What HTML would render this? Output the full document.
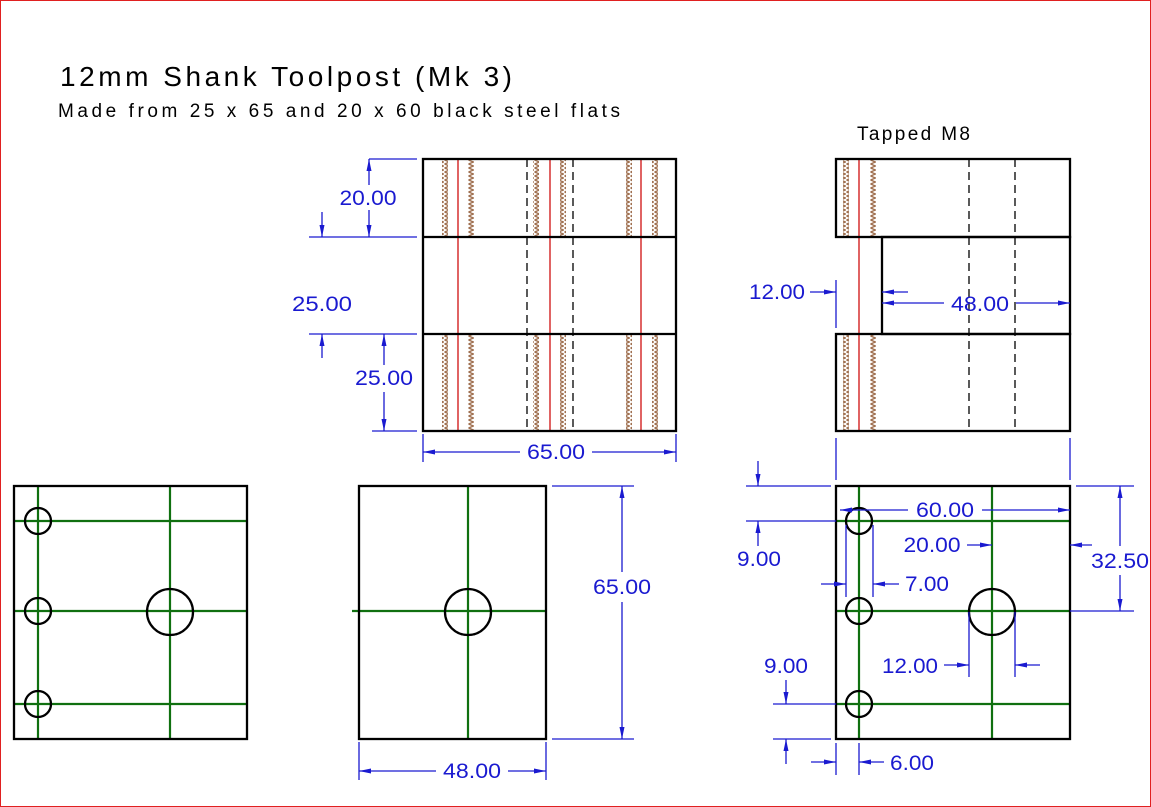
<!DOCTYPE html>
<html><head><meta charset="utf-8"><style>html,body{margin:0;padding:0;background:#fff}svg{display:block}</style></head><body>
<svg width="1151" height="807" viewBox="0 0 1151 807" xmlns="http://www.w3.org/2000/svg" font-family="Liberation Sans, sans-serif">
<defs>
<marker id="a" viewBox="0 0 12 6" refX="12" refY="3" markerWidth="12" markerHeight="6" markerUnits="userSpaceOnUse" orient="auto"><path d="M0,0.5 L12,3 L0,5.5z" fill="#1a1ad0"/></marker>
<pattern id="z" width="6" height="4" patternUnits="userSpaceOnUse"><polyline points="0.5,0 5.5,2 0.5,4" fill="none" stroke="#a07050" stroke-width="1.4"/></pattern>
</defs>
<rect x="0.5" y="0.5" width="1150" height="806" fill="#fff" stroke="#e02020"/>
<text x="60" y="86" font-size="28" textLength="452" lengthAdjust="spacing" fill="#000">12mm Shank Toolpost (Mk 3)</text>
<text x="58" y="117" font-size="19" textLength="562" lengthAdjust="spacing" fill="#000">Made from 25 x 65 and 20 x 60 black steel flats</text>
<text x="857" y="140" font-size="19" textLength="113" lengthAdjust="spacing" fill="#000">Tapped M8</text>

<g fill="url(#z)">
<rect x="442" y="160" width="6" height="77"/><rect x="468" y="160" width="6" height="77"/>
<rect x="533" y="160" width="6" height="77"/><rect x="560" y="160" width="6" height="77"/>
<rect x="626" y="160" width="6" height="77"/><rect x="652" y="160" width="6" height="77"/>
<rect x="442" y="335" width="6" height="96"/><rect x="468" y="335" width="6" height="96"/>
<rect x="533" y="335" width="6" height="96"/><rect x="560" y="335" width="6" height="96"/>
<rect x="626" y="335" width="6" height="96"/><rect x="652" y="335" width="6" height="96"/>
<rect x="843" y="160" width="6" height="77"/><rect x="870" y="160" width="6" height="77"/>
<rect x="843" y="335" width="6" height="96"/><rect x="870" y="335" width="6" height="96"/>
</g>
<g stroke="#d01010" stroke-width="1.3">
<line x1="458" y1="159" x2="458" y2="431"/><line x1="550" y1="159" x2="550" y2="431"/><line x1="641" y1="159" x2="641" y2="431"/>
<line x1="859" y1="159" x2="859" y2="431"/>
</g>
<g stroke="#000" stroke-width="1.3" stroke-dasharray="8,5">
<line x1="527" y1="159" x2="527" y2="431"/><line x1="573" y1="159" x2="573" y2="431"/>
<line x1="969" y1="159" x2="969" y2="431"/><line x1="1015" y1="159" x2="1015" y2="431"/>
</g>
<g stroke="#000" stroke-width="2.3" fill="none">
<rect x="423" y="159" width="253" height="272"/>
<line x1="423" y1="237" x2="676" y2="237"/><line x1="423" y1="334" x2="676" y2="334"/>
<rect x="836" y="159" width="234" height="78"/>
<rect x="882" y="237" width="188" height="97"/>
<rect x="836" y="334" width="234" height="97"/>
</g>

<g stroke="#107010" stroke-width="2.2">
<line x1="38" y1="486" x2="38" y2="739"/><line x1="170" y1="486" x2="170" y2="739"/>
<line x1="14" y1="521" x2="247" y2="521"/><line x1="14" y1="611" x2="247" y2="611"/><line x1="14" y1="704" x2="247" y2="704"/>
<line x1="468" y1="486" x2="468" y2="739"/><line x1="352" y1="611" x2="546" y2="611"/>
<line x1="859" y1="486" x2="859" y2="739"/><line x1="992" y1="486" x2="992" y2="739"/>
<line x1="836" y1="521" x2="1070" y2="521"/><line x1="836" y1="611" x2="1070" y2="611"/><line x1="836" y1="704" x2="1070" y2="704"/>
</g>
<g stroke="#000" stroke-width="2.3" fill="none">
<rect x="14" y="486" width="233" height="253"/>
<circle cx="38" cy="521" r="13"/><circle cx="38" cy="611" r="13"/><circle cx="38" cy="704" r="13"/><circle cx="170" cy="612" r="23"/>
<rect x="359" y="486" width="187" height="253"/>
<circle cx="468" cy="612" r="23"/>
<rect x="836" y="486" width="234" height="253"/>
<circle cx="859" cy="521" r="13"/><circle cx="859" cy="611" r="13"/><circle cx="859" cy="704" r="13"/><circle cx="992" cy="612" r="23"/>
</g>

<g stroke="#1a1ad0" stroke-width="1.3" fill="none">
<line x1="369" y1="159" x2="417" y2="159"/><line x1="309" y1="237" x2="417" y2="237"/>
<line x1="309" y1="334" x2="417" y2="334"/><line x1="372" y1="431" x2="417" y2="431"/>
<line x1="369" y1="185" x2="369" y2="159" marker-end="url(#a)"/><line x1="369" y1="210" x2="369" y2="237" marker-end="url(#a)"/>
<line x1="322" y1="212" x2="322" y2="237" marker-end="url(#a)"/><line x1="322" y1="358" x2="322" y2="334" marker-end="url(#a)"/>
<line x1="384" y1="365" x2="384" y2="334" marker-end="url(#a)"/><line x1="384" y1="392" x2="384" y2="431" marker-end="url(#a)"/>
<line x1="423" y1="434" x2="423" y2="462"/><line x1="676" y1="434" x2="676" y2="462"/>
<line x1="520" y1="452" x2="423" y2="452" marker-end="url(#a)"/><line x1="592" y1="452" x2="676" y2="452" marker-end="url(#a)"/>

<line x1="552" y1="486" x2="634" y2="486"/><line x1="552" y1="739" x2="634" y2="739"/>
<line x1="622" y1="572" x2="622" y2="486" marker-end="url(#a)"/><line x1="622" y1="602" x2="622" y2="739" marker-end="url(#a)"/>
<line x1="359" y1="742" x2="359" y2="780"/><line x1="546" y1="742" x2="546" y2="780"/>
<line x1="436" y1="771" x2="359" y2="771" marker-end="url(#a)"/><line x1="508" y1="771" x2="546" y2="771" marker-end="url(#a)"/>

<line x1="836" y1="280" x2="836" y2="328"/>
<line x1="810" y1="292" x2="836" y2="292" marker-end="url(#a)"/><line x1="908" y1="292" x2="882" y2="292" marker-end="url(#a)"/>
<line x1="944" y1="303" x2="882" y2="303" marker-end="url(#a)"/><line x1="1016" y1="303" x2="1070" y2="303" marker-end="url(#a)"/>
<line x1="836" y1="438" x2="836" y2="480"/><line x1="1070" y1="438" x2="1070" y2="480"/>

<line x1="908" y1="510" x2="840" y2="510" marker-end="url(#a)"/><line x1="982" y1="510" x2="1070" y2="510" marker-end="url(#a)"/>
<line x1="967" y1="545" x2="992" y2="545" marker-end="url(#a)"/><line x1="1092" y1="545" x2="1070" y2="545" marker-end="url(#a)"/>
<line x1="1076" y1="486" x2="1134" y2="486"/><line x1="1070" y1="611" x2="1134" y2="611"/>
<line x1="1120" y1="546" x2="1120" y2="486" marker-end="url(#a)"/><line x1="1120" y1="575" x2="1120" y2="611" marker-end="url(#a)"/>
<line x1="846" y1="525" x2="846" y2="597"/><line x1="873" y1="525" x2="873" y2="597"/>
<line x1="821" y1="584" x2="846" y2="584" marker-end="url(#a)"/><line x1="899" y1="584" x2="873" y2="584" marker-end="url(#a)"/>
<line x1="746" y1="486" x2="831" y2="486"/><line x1="746" y1="521" x2="836" y2="521"/>
<line x1="758" y1="461" x2="758" y2="486" marker-end="url(#a)"/><line x1="758" y1="546" x2="758" y2="521" marker-end="url(#a)"/>
<line x1="773" y1="704" x2="836" y2="704"/><line x1="773" y1="739" x2="831" y2="739"/>
<line x1="786" y1="680" x2="786" y2="704" marker-end="url(#a)"/><line x1="786" y1="764" x2="786" y2="739" marker-end="url(#a)"/>
<line x1="969" y1="612" x2="969" y2="677"/><line x1="1015" y1="612" x2="1015" y2="677"/>
<line x1="944" y1="665" x2="969" y2="665" marker-end="url(#a)"/><line x1="1040" y1="665" x2="1015" y2="665" marker-end="url(#a)"/>
<line x1="836" y1="743" x2="836" y2="775"/><line x1="859" y1="743" x2="859" y2="775"/>
<line x1="811" y1="762" x2="836" y2="762" marker-end="url(#a)"/><line x1="884" y1="762" x2="859" y2="762" marker-end="url(#a)"/>
</g>

<g fill="#1a1ad0" font-size="21" text-anchor="middle">
<text x="368" y="205" textLength="57" lengthAdjust="spacingAndGlyphs">20.00</text>
<text x="322" y="311" textLength="60" lengthAdjust="spacingAndGlyphs">25.00</text>
<text x="384" y="385" textLength="58" lengthAdjust="spacingAndGlyphs">25.00</text>
<text x="556" y="459" textLength="58" lengthAdjust="spacingAndGlyphs">65.00</text>
<text x="622" y="594" textLength="58" lengthAdjust="spacingAndGlyphs">65.00</text>
<text x="472" y="778" textLength="58" lengthAdjust="spacingAndGlyphs">48.00</text>
<text x="777" y="299" textLength="56" lengthAdjust="spacingAndGlyphs">12.00</text>
<text x="980" y="311" textLength="58" lengthAdjust="spacingAndGlyphs">48.00</text>
<text x="945" y="517" textLength="58" lengthAdjust="spacingAndGlyphs">60.00</text>
<text x="932" y="552" textLength="57" lengthAdjust="spacingAndGlyphs">20.00</text>
<text x="1120" y="568" textLength="58" lengthAdjust="spacingAndGlyphs">32.50</text>
<text x="927" y="591" textLength="44" lengthAdjust="spacingAndGlyphs">7.00</text>
<text x="759" y="566" textLength="44" lengthAdjust="spacingAndGlyphs">9.00</text>
<text x="786" y="673" textLength="44" lengthAdjust="spacingAndGlyphs">9.00</text>
<text x="910" y="673" textLength="56" lengthAdjust="spacingAndGlyphs">12.00</text>
<text x="912" y="770" textLength="44" lengthAdjust="spacingAndGlyphs">6.00</text>
</g>
</svg>
</body></html>
